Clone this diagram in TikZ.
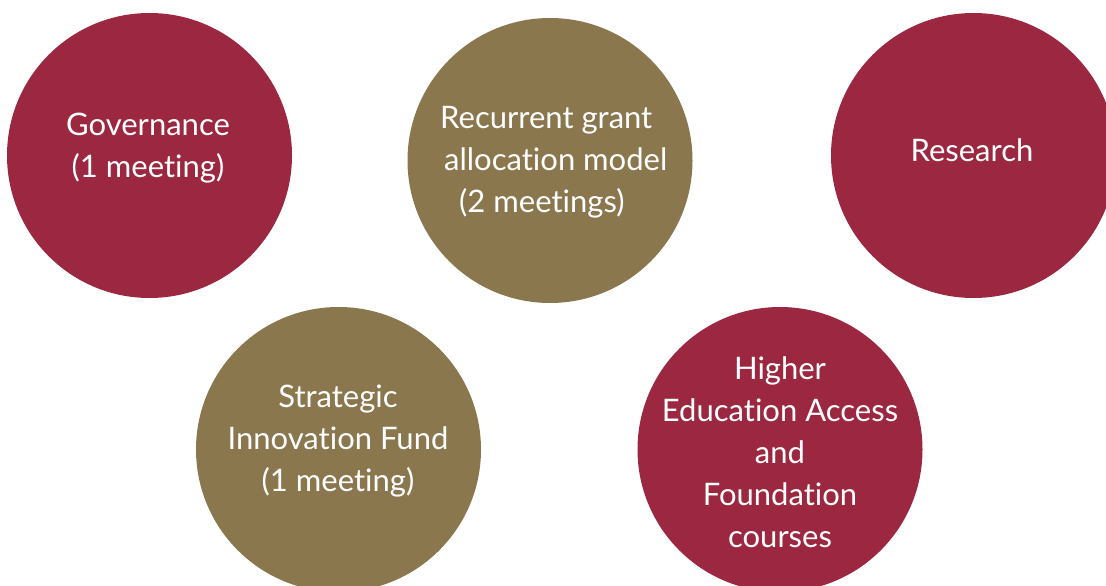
\documentclass[tikz,border=0pt]{standalone}
\usepackage{fontspec}
\setmainfont{Lato}[Ligatures=NoCommon]
\definecolor{wine}{HTML}{9C2740}
\definecolor{olive}{HTML}{8A774E}
\begin{document}
\begin{tikzpicture}[x=1pt,y=-1pt,
  blob/.style={circle,minimum size=285pt,inner sep=0pt,draw=none},
  lbl/.style={text=white,align=center,font=\fontsize{31}{42}\selectfont}]
\useasboundingbox (0,0) rectangle (1106,586);
\clip (0,0) rectangle (1106,586);
\node[blob,fill=wine] (gov) at (149.5,155.5) {};
\node[blob,fill=olive] (rec) at (550,160.5) {};
\node[blob,fill=wine] (res) at (973.5,155.5) {};
\node[blob,fill=olive] (sif) at (338.5,449.5) {};
\node[blob,fill=wine] (hea) at (780,449.5) {};
\node[lbl] (govt) at (148,148) {Governance\\(1 meeting)};
\node[lbl,align=left,anchor=west,inner xsep=0pt] (rect) at (440,162)
  {Recurrent grant\\\hspace*{4pt}allocation model\\\hspace*{19pt}(2 meetings)};
\node[lbl] (rest) at (972,150) {Research};
\node[lbl] (sift) at (338,441) {Strategic\\Innovation Fund\\(1 meeting)};
\node[lbl] (heat) at (780,452) {Higher\\Education Access\\and\\Foundation\\courses};
\end{tikzpicture}
\end{document}
